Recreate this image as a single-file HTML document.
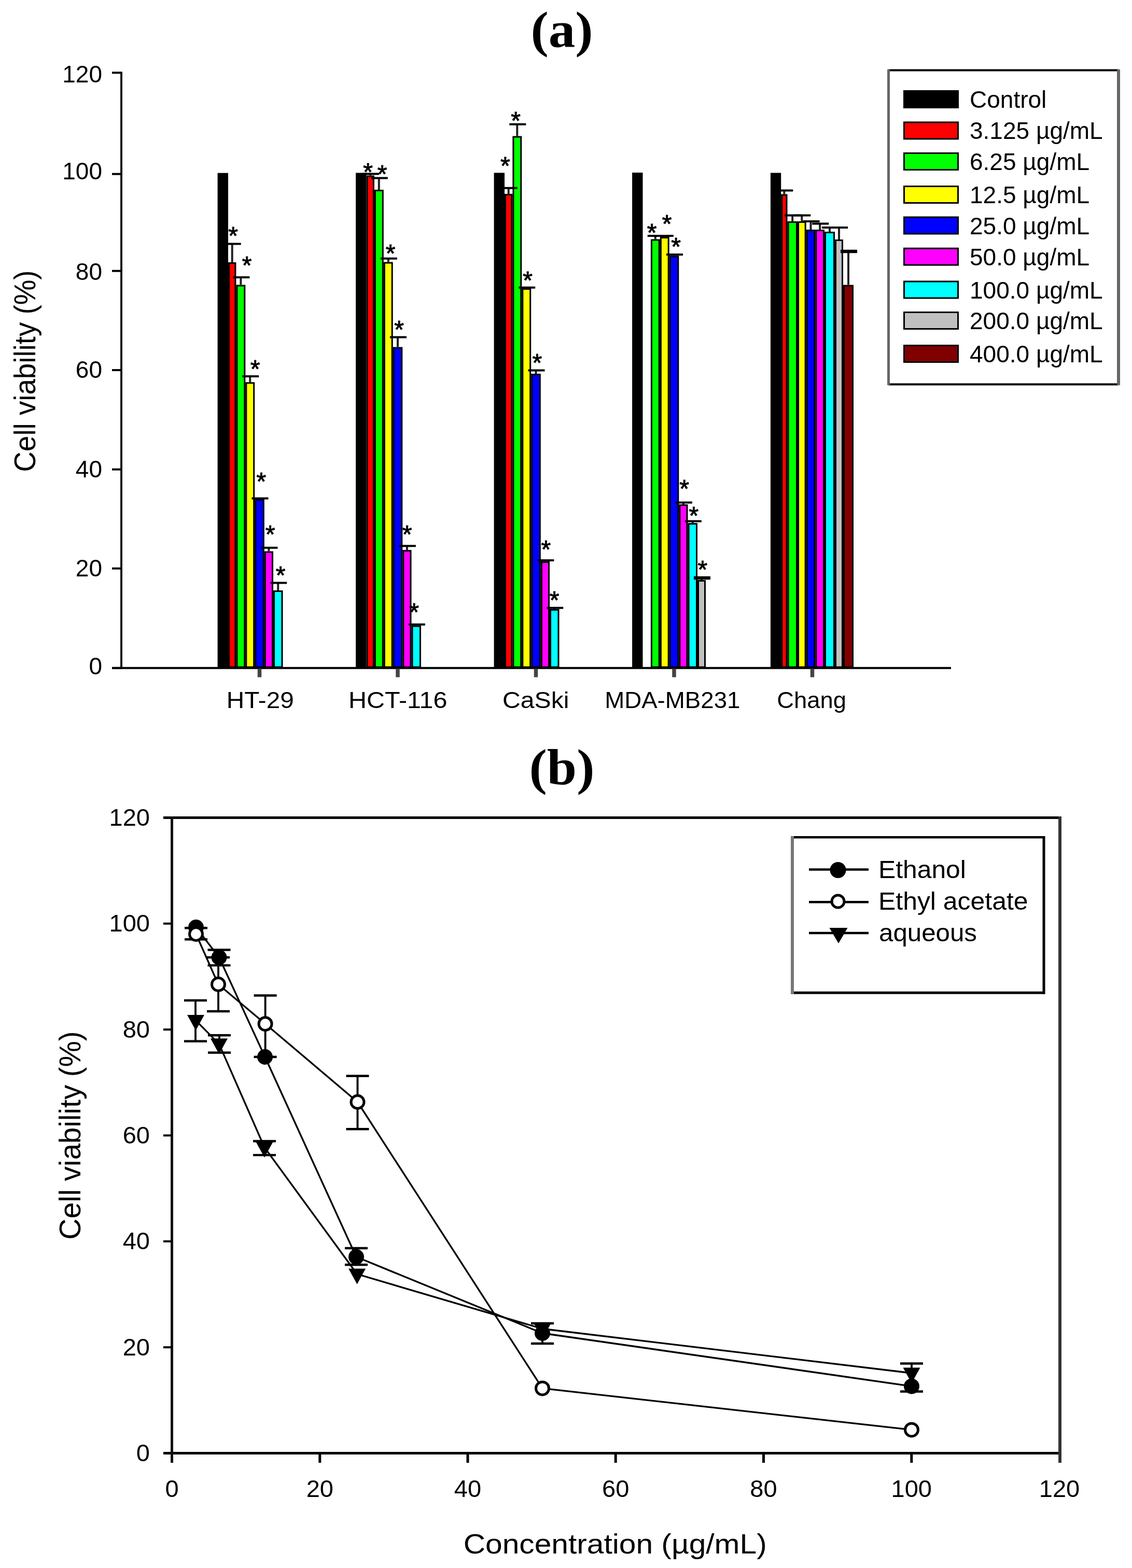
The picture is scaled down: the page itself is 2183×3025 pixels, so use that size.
<!DOCTYPE html>
<html><head><meta charset="utf-8"><title>Cell viability</title>
<style>html,body{margin:0;padding:0;background:#fff;}svg{display:block;}</style>
</head><body>
<svg width="2183" height="3025" viewBox="0 0 2183 3025">
<rect width="2183" height="3025" fill="#fff"/>
<text transform="translate(1083.5,90) scale(1,0.955)" font-family='"Liberation Serif", "Times New Roman", serif' font-weight="bold" font-size="103" text-anchor="middle">(a)</text>
<line x1="234" y1="138.5" x2="234" y2="1290.5" stroke="#111" stroke-width="4"/>
<line x1="216" y1="140.3" x2="234" y2="140.3" stroke="#000" stroke-width="4"/>
<text x="197" y="158.5" font-family='"Liberation Sans", Arial, sans-serif' font-size="46" text-anchor="end">120</text>
<line x1="216" y1="335.7" x2="234" y2="335.7" stroke="#000" stroke-width="4"/>
<text x="197" y="345.9" font-family='"Liberation Sans", Arial, sans-serif' font-size="46" text-anchor="end">100</text>
<line x1="216" y1="522.7" x2="234" y2="522.7" stroke="#000" stroke-width="4"/>
<text x="197" y="539.5" font-family='"Liberation Sans", Arial, sans-serif' font-size="46" text-anchor="end">80</text>
<line x1="216" y1="714" x2="234" y2="714" stroke="#000" stroke-width="4"/>
<text x="197" y="728.5" font-family='"Liberation Sans", Arial, sans-serif' font-size="46" text-anchor="end">60</text>
<line x1="216" y1="905.6" x2="234" y2="905.6" stroke="#000" stroke-width="4"/>
<text x="197" y="920.5" font-family='"Liberation Sans", Arial, sans-serif' font-size="46" text-anchor="end">40</text>
<line x1="216" y1="1096.7" x2="234" y2="1096.7" stroke="#000" stroke-width="4"/>
<text x="197" y="1112.3" font-family='"Liberation Sans", Arial, sans-serif' font-size="46" text-anchor="end">20</text>
<line x1="216" y1="1288.8" x2="234" y2="1288.8" stroke="#000" stroke-width="4"/>
<text x="197" y="1301.3" font-family='"Liberation Sans", Arial, sans-serif' font-size="46" text-anchor="end">0</text>
<line x1="216" y1="1288.8" x2="1834" y2="1288.8" stroke="#000" stroke-width="4"/>
<text transform="translate(68,716) rotate(-90)" font-family='"Liberation Sans", Arial, sans-serif' font-size="57" text-anchor="middle" textLength="389" lengthAdjust="spacingAndGlyphs">Cell viability (%)</text>
<rect x="421.1" y="335.2" width="17.4" height="951.8" fill="#000000" stroke="#000" stroke-width="3"/>
<rect x="441.5" y="507.5" width="12.4" height="779.5" fill="#ff0000" stroke="#000" stroke-width="3"/>
<rect x="456.9" y="551.0" width="14.9" height="736.0" fill="#00ff00" stroke="#000" stroke-width="3"/>
<rect x="474.8" y="738.8" width="14.9" height="548.2" fill="#ffff00" stroke="#000" stroke-width="3"/>
<rect x="492.7" y="964.2" width="15.6" height="322.8" fill="#0000ff" stroke="#000" stroke-width="3"/>
<rect x="511.3" y="1065.0" width="14.2" height="222.0" fill="#ff00ff" stroke="#000" stroke-width="3"/>
<rect x="528.5" y="1140.5" width="15.5" height="146.5" fill="#00ffff" stroke="#000" stroke-width="3"/>
<line x1="447.7" y1="470.6" x2="447.7" y2="506.0" stroke="#222" stroke-width="4"/>
<line x1="432.7" y1="470.6" x2="464.7" y2="470.6" stroke="#000" stroke-width="4"/>
<line x1="464.4" y1="535.0" x2="464.4" y2="549.5" stroke="#222" stroke-width="4"/>
<line x1="449.4" y1="535.0" x2="481.4" y2="535.0" stroke="#000" stroke-width="4"/>
<line x1="482.2" y1="726.0" x2="482.2" y2="737.3" stroke="#222" stroke-width="4"/>
<line x1="467.2" y1="726.0" x2="499.2" y2="726.0" stroke="#000" stroke-width="4"/>
<line x1="485.5" y1="961.5" x2="517.5" y2="961.5" stroke="#000" stroke-width="4"/>
<line x1="518.4" y1="1056.7" x2="518.4" y2="1063.5" stroke="#222" stroke-width="4"/>
<line x1="503.4" y1="1056.7" x2="535.4" y2="1056.7" stroke="#000" stroke-width="4"/>
<line x1="536.2" y1="1124.6" x2="536.2" y2="1139.0" stroke="#222" stroke-width="4"/>
<line x1="521.2" y1="1124.6" x2="553.2" y2="1124.6" stroke="#000" stroke-width="4"/>
<text x="449.6" y="470.5" font-family='"Liberation Sans", Arial, sans-serif' font-size="48" text-anchor="middle" stroke="#000" stroke-width="1.0">*</text>
<text x="476.2" y="528.3" font-family='"Liberation Sans", Arial, sans-serif' font-size="48" text-anchor="middle" stroke="#000" stroke-width="1.0">*</text>
<text x="492.0" y="727.7" font-family='"Liberation Sans", Arial, sans-serif' font-size="48" text-anchor="middle" stroke="#000" stroke-width="1.0">*</text>
<text x="503.8" y="944.8" font-family='"Liberation Sans", Arial, sans-serif' font-size="48" text-anchor="middle" stroke="#000" stroke-width="1.0">*</text>
<text x="521.0" y="1046.8" font-family='"Liberation Sans", Arial, sans-serif' font-size="48" text-anchor="middle" stroke="#000" stroke-width="1.0">*</text>
<text x="541.0" y="1126.1" font-family='"Liberation Sans", Arial, sans-serif' font-size="48" text-anchor="middle" stroke="#000" stroke-width="1.0">*</text>
<line x1="500.5" y1="1290" x2="500.5" y2="1306.5" stroke="#444" stroke-width="7.5"/>
<text x="501.8" y="1366" font-family='"Liberation Sans", Arial, sans-serif' font-size="45" text-anchor="middle" textLength="129.9" lengthAdjust="spacingAndGlyphs">HT-29</text>
<rect x="687.6" y="335.0" width="17.4" height="952.0" fill="#000000" stroke="#000" stroke-width="3"/>
<rect x="708.0" y="340.0" width="12.4" height="947.0" fill="#ff0000" stroke="#000" stroke-width="3"/>
<rect x="723.4" y="367.5" width="14.9" height="919.5" fill="#00ff00" stroke="#000" stroke-width="3"/>
<rect x="741.3" y="507.0" width="14.9" height="780.0" fill="#ffff00" stroke="#000" stroke-width="3"/>
<rect x="759.2" y="671.0" width="15.6" height="616.0" fill="#0000ff" stroke="#000" stroke-width="3"/>
<rect x="777.8" y="1062.5" width="14.2" height="224.5" fill="#ff00ff" stroke="#000" stroke-width="3"/>
<rect x="795.0" y="1208.0" width="15.5" height="79.0" fill="#00ffff" stroke="#000" stroke-width="3"/>
<line x1="714.2" y1="335.5" x2="714.2" y2="338.5" stroke="#222" stroke-width="4"/>
<line x1="699.2" y1="335.5" x2="731.2" y2="335.5" stroke="#000" stroke-width="4"/>
<line x1="730.8" y1="343.6" x2="730.8" y2="366.0" stroke="#222" stroke-width="4"/>
<line x1="715.8" y1="343.6" x2="747.8" y2="343.6" stroke="#000" stroke-width="4"/>
<line x1="748.8" y1="498.8" x2="748.8" y2="505.5" stroke="#222" stroke-width="4"/>
<line x1="733.8" y1="498.8" x2="765.8" y2="498.8" stroke="#000" stroke-width="4"/>
<line x1="767.0" y1="650.5" x2="767.0" y2="669.5" stroke="#222" stroke-width="4"/>
<line x1="752.0" y1="650.5" x2="784.0" y2="650.5" stroke="#000" stroke-width="4"/>
<line x1="784.9" y1="1053.2" x2="784.9" y2="1061.0" stroke="#222" stroke-width="4"/>
<line x1="769.9" y1="1053.2" x2="801.9" y2="1053.2" stroke="#000" stroke-width="4"/>
<line x1="787.8" y1="1204.8" x2="819.8" y2="1204.8" stroke="#000" stroke-width="4"/>
<text x="709.5" y="348.3" font-family='"Liberation Sans", Arial, sans-serif' font-size="48" text-anchor="middle" stroke="#000" stroke-width="1.0">*</text>
<text x="737.0" y="352.4" font-family='"Liberation Sans", Arial, sans-serif' font-size="48" text-anchor="middle" stroke="#000" stroke-width="1.0">*</text>
<text x="753.2" y="504.6" font-family='"Liberation Sans", Arial, sans-serif' font-size="48" text-anchor="middle" stroke="#000" stroke-width="1.0">*</text>
<text x="769.5" y="652.3" font-family='"Liberation Sans", Arial, sans-serif' font-size="48" text-anchor="middle" stroke="#000" stroke-width="1.0">*</text>
<text x="785.0" y="1046.8" font-family='"Liberation Sans", Arial, sans-serif' font-size="48" text-anchor="middle" stroke="#000" stroke-width="1.0">*</text>
<text x="798.5" y="1196.8" font-family='"Liberation Sans", Arial, sans-serif' font-size="48" text-anchor="middle" stroke="#000" stroke-width="1.0">*</text>
<line x1="767.0" y1="1290" x2="767.0" y2="1306.5" stroke="#444" stroke-width="7.5"/>
<text x="767.2" y="1366" font-family='"Liberation Sans", Arial, sans-serif' font-size="45" text-anchor="middle" textLength="190.3" lengthAdjust="spacingAndGlyphs">HCT-116</text>
<rect x="954.1" y="334.9" width="17.4" height="952.1" fill="#000000" stroke="#000" stroke-width="3"/>
<rect x="974.5" y="375.5" width="12.4" height="911.5" fill="#ff0000" stroke="#000" stroke-width="3"/>
<rect x="989.9" y="264.0" width="14.9" height="1023.0" fill="#00ff00" stroke="#000" stroke-width="3"/>
<rect x="1007.8" y="557.5" width="14.9" height="729.5" fill="#ffff00" stroke="#000" stroke-width="3"/>
<rect x="1025.7" y="722.5" width="15.6" height="564.5" fill="#0000ff" stroke="#000" stroke-width="3"/>
<rect x="1044.3" y="1084.5" width="14.2" height="202.5" fill="#ff00ff" stroke="#000" stroke-width="3"/>
<rect x="1061.5" y="1176.5" width="15.5" height="110.5" fill="#00ffff" stroke="#000" stroke-width="3"/>
<line x1="980.7" y1="362.7" x2="980.7" y2="374.0" stroke="#222" stroke-width="4"/>
<line x1="965.7" y1="362.7" x2="997.7" y2="362.7" stroke="#000" stroke-width="4"/>
<line x1="997.3" y1="239.7" x2="997.3" y2="262.5" stroke="#222" stroke-width="4"/>
<line x1="982.3" y1="239.7" x2="1014.3" y2="239.7" stroke="#000" stroke-width="4"/>
<line x1="1000.2" y1="554.8" x2="1032.2" y2="554.8" stroke="#000" stroke-width="4"/>
<line x1="1033.5" y1="714.4" x2="1033.5" y2="721.0" stroke="#222" stroke-width="4"/>
<line x1="1018.5" y1="714.4" x2="1050.5" y2="714.4" stroke="#000" stroke-width="4"/>
<line x1="1036.4" y1="1081.1" x2="1068.4" y2="1081.1" stroke="#000" stroke-width="4"/>
<line x1="1069.2" y1="1172.8" x2="1069.2" y2="1175.0" stroke="#222" stroke-width="4"/>
<line x1="1054.2" y1="1172.8" x2="1086.2" y2="1172.8" stroke="#000" stroke-width="4"/>
<text x="974.3" y="335.8" font-family='"Liberation Sans", Arial, sans-serif' font-size="48" text-anchor="middle" stroke="#000" stroke-width="1.0">*</text>
<text x="994.5" y="249.1" font-family='"Liberation Sans", Arial, sans-serif' font-size="48" text-anchor="middle" stroke="#000" stroke-width="1.0">*</text>
<text x="1017.5" y="557.1" font-family='"Liberation Sans", Arial, sans-serif' font-size="48" text-anchor="middle" stroke="#000" stroke-width="1.0">*</text>
<text x="1035.8" y="715.8" font-family='"Liberation Sans", Arial, sans-serif' font-size="48" text-anchor="middle" stroke="#000" stroke-width="1.0">*</text>
<text x="1052.8" y="1075.8" font-family='"Liberation Sans", Arial, sans-serif' font-size="48" text-anchor="middle" stroke="#000" stroke-width="1.0">*</text>
<text x="1069.0" y="1173.8" font-family='"Liberation Sans", Arial, sans-serif' font-size="48" text-anchor="middle" stroke="#000" stroke-width="1.0">*</text>
<line x1="1033.5" y1="1290" x2="1033.5" y2="1306.5" stroke="#444" stroke-width="7.5"/>
<text x="1033.3" y="1366" font-family='"Liberation Sans", Arial, sans-serif' font-size="45" text-anchor="middle" textLength="128.4" lengthAdjust="spacingAndGlyphs">CaSki</text>
<rect x="1220.6" y="334.5" width="17.4" height="952.5" fill="#000000" stroke="#000" stroke-width="3"/>
<rect x="1256.4" y="463.0" width="14.9" height="824.0" fill="#00ff00" stroke="#000" stroke-width="3"/>
<rect x="1274.3" y="458.5" width="14.9" height="828.5" fill="#ffff00" stroke="#000" stroke-width="3"/>
<rect x="1292.2" y="494.7" width="15.6" height="792.3" fill="#0000ff" stroke="#000" stroke-width="3"/>
<rect x="1310.8" y="974.5" width="14.2" height="312.5" fill="#ff00ff" stroke="#000" stroke-width="3"/>
<rect x="1328.0" y="1010.5" width="15.5" height="276.5" fill="#00ffff" stroke="#000" stroke-width="3"/>
<rect x="1346.5" y="1120.5" width="13.0" height="166.5" fill="#c0c0c0" stroke="#000" stroke-width="3"/>
<line x1="1263.8" y1="455.0" x2="1263.8" y2="461.5" stroke="#222" stroke-width="4"/>
<line x1="1248.8" y1="455.0" x2="1280.8" y2="455.0" stroke="#000" stroke-width="4"/>
<line x1="1266.8" y1="455.0" x2="1298.8" y2="455.0" stroke="#000" stroke-width="4"/>
<line x1="1300.0" y1="491.1" x2="1300.0" y2="493.2" stroke="#222" stroke-width="4"/>
<line x1="1285.0" y1="491.1" x2="1317.0" y2="491.1" stroke="#000" stroke-width="4"/>
<line x1="1317.9" y1="969.5" x2="1317.9" y2="973.0" stroke="#222" stroke-width="4"/>
<line x1="1302.9" y1="969.5" x2="1334.9" y2="969.5" stroke="#000" stroke-width="4"/>
<line x1="1335.8" y1="1005.6" x2="1335.8" y2="1009.0" stroke="#222" stroke-width="4"/>
<line x1="1320.8" y1="1005.6" x2="1352.8" y2="1005.6" stroke="#000" stroke-width="4"/>
<line x1="1353.0" y1="1115.0" x2="1353.0" y2="1119.0" stroke="#222" stroke-width="4"/>
<line x1="1338.0" y1="1115.0" x2="1370.0" y2="1115.0" stroke="#000" stroke-width="6.5"/>
<text x="1257.0" y="464.8" font-family='"Liberation Sans", Arial, sans-serif' font-size="48" text-anchor="middle" stroke="#000" stroke-width="1.0">*</text>
<text x="1286.0" y="447.7" font-family='"Liberation Sans", Arial, sans-serif' font-size="48" text-anchor="middle" stroke="#000" stroke-width="1.0">*</text>
<text x="1303.7" y="491.8" font-family='"Liberation Sans", Arial, sans-serif' font-size="48" text-anchor="middle" stroke="#000" stroke-width="1.0">*</text>
<text x="1319.5" y="959.2" font-family='"Liberation Sans", Arial, sans-serif' font-size="48" text-anchor="middle" stroke="#000" stroke-width="1.0">*</text>
<text x="1337.8" y="1011.1" font-family='"Liberation Sans", Arial, sans-serif' font-size="48" text-anchor="middle" stroke="#000" stroke-width="1.0">*</text>
<text x="1354.8" y="1114.8" font-family='"Liberation Sans", Arial, sans-serif' font-size="48" text-anchor="middle" stroke="#000" stroke-width="1.0">*</text>
<line x1="1300.0" y1="1290" x2="1300.0" y2="1306.5" stroke="#444" stroke-width="7.5"/>
<text x="1296.8" y="1366" font-family='"Liberation Sans", Arial, sans-serif' font-size="45" text-anchor="middle" textLength="261.3" lengthAdjust="spacingAndGlyphs">MDA-MB231</text>
<rect x="1487.4" y="335.0" width="17.3" height="952.0" fill="#000000" stroke="#000" stroke-width="3"/>
<rect x="1507.7" y="376.0" width="9.3" height="911.0" fill="#ff0000" stroke="#000" stroke-width="3"/>
<rect x="1520.0" y="428.5" width="16.5" height="858.5" fill="#00ff00" stroke="#000" stroke-width="3"/>
<rect x="1539.5" y="428.5" width="13.7" height="858.5" fill="#ffff00" stroke="#000" stroke-width="3"/>
<rect x="1556.2" y="444.5" width="14.6" height="842.5" fill="#0000ff" stroke="#000" stroke-width="3"/>
<rect x="1573.8" y="444.5" width="14.7" height="842.5" fill="#ff00ff" stroke="#000" stroke-width="3"/>
<rect x="1591.5" y="448.5" width="17.0" height="838.5" fill="#00ffff" stroke="#000" stroke-width="3"/>
<rect x="1611.5" y="463.5" width="13.0" height="823.5" fill="#c0c0c0" stroke="#000" stroke-width="3"/>
<rect x="1627.5" y="551.1" width="17.0" height="735.9" fill="#800000" stroke="#000" stroke-width="3"/>
<line x1="1512.3" y1="367.5" x2="1512.3" y2="374.5" stroke="#222" stroke-width="4"/>
<line x1="1497.3" y1="367.5" x2="1529.3" y2="367.5" stroke="#000" stroke-width="4"/>
<line x1="1528.2" y1="415.5" x2="1528.2" y2="427.0" stroke="#222" stroke-width="4"/>
<line x1="1513.2" y1="415.5" x2="1545.2" y2="415.5" stroke="#000" stroke-width="4"/>
<line x1="1546.3" y1="415.5" x2="1546.3" y2="427.0" stroke="#222" stroke-width="4"/>
<line x1="1531.3" y1="415.5" x2="1563.3" y2="415.5" stroke="#000" stroke-width="4"/>
<line x1="1563.5" y1="427.0" x2="1563.5" y2="443.0" stroke="#222" stroke-width="4"/>
<line x1="1548.5" y1="427.0" x2="1580.5" y2="427.0" stroke="#000" stroke-width="4"/>
<line x1="1581.2" y1="431.4" x2="1581.2" y2="443.0" stroke="#222" stroke-width="4"/>
<line x1="1566.2" y1="431.4" x2="1598.2" y2="431.4" stroke="#000" stroke-width="4"/>
<line x1="1600.0" y1="439.0" x2="1600.0" y2="447.0" stroke="#222" stroke-width="4"/>
<line x1="1585.0" y1="439.0" x2="1617.0" y2="439.0" stroke="#000" stroke-width="4"/>
<line x1="1618.0" y1="439.0" x2="1618.0" y2="462.0" stroke="#222" stroke-width="4"/>
<line x1="1603.0" y1="439.0" x2="1635.0" y2="439.0" stroke="#000" stroke-width="4"/>
<line x1="1636.0" y1="485.0" x2="1636.0" y2="549.6" stroke="#222" stroke-width="4"/>
<line x1="1621.0" y1="485.0" x2="1653.0" y2="485.0" stroke="#000" stroke-width="6.5"/>
<line x1="1566.5" y1="1290" x2="1566.5" y2="1306.5" stroke="#444" stroke-width="7.5"/>
<text x="1565.2" y="1366" font-family='"Liberation Sans", Arial, sans-serif' font-size="45" text-anchor="middle" textLength="133.8" lengthAdjust="spacingAndGlyphs">Chang</text>
<line x1="1713" y1="135.5" x2="2157" y2="135.5" stroke="#000" stroke-width="4"/>
<line x1="1713" y1="741.5" x2="2157" y2="741.5" stroke="#000" stroke-width="4"/>
<line x1="1713.5" y1="134" x2="1713.5" y2="743" stroke="#666" stroke-width="5"/>
<line x1="2157" y1="134" x2="2157" y2="743" stroke="#666" stroke-width="6"/>
<rect x="1743.5" y="175.5" width="104" height="32" fill="#000000" stroke="#000" stroke-width="3"/>
<text x="1870" y="208.0" font-family='"Liberation Sans", Arial, sans-serif' font-size="46">Control</text>
<rect x="1743.5" y="235.9" width="104" height="32" fill="#ff0000" stroke="#000" stroke-width="3"/>
<text x="1870" y="268.4" font-family='"Liberation Sans", Arial, sans-serif' font-size="46">3.125 µg/mL</text>
<rect x="1743.5" y="295.5" width="104" height="32" fill="#00ff00" stroke="#000" stroke-width="3"/>
<text x="1870" y="328.0" font-family='"Liberation Sans", Arial, sans-serif' font-size="46">6.25 µg/mL</text>
<rect x="1743.5" y="359.5" width="104" height="32" fill="#ffff00" stroke="#000" stroke-width="3"/>
<text x="1870" y="392.0" font-family='"Liberation Sans", Arial, sans-serif' font-size="46">12.5 µg/mL</text>
<rect x="1743.5" y="419.0" width="104" height="32" fill="#0000ff" stroke="#000" stroke-width="3"/>
<text x="1870" y="451.5" font-family='"Liberation Sans", Arial, sans-serif' font-size="46">25.0 µg/mL</text>
<rect x="1743.5" y="479.2" width="104" height="32" fill="#ff00ff" stroke="#000" stroke-width="3"/>
<text x="1870" y="511.7" font-family='"Liberation Sans", Arial, sans-serif' font-size="46">50.0 µg/mL</text>
<rect x="1743.5" y="543.0" width="104" height="32" fill="#00ffff" stroke="#000" stroke-width="3"/>
<text x="1870" y="575.5" font-family='"Liberation Sans", Arial, sans-serif' font-size="46">100.0 µg/mL</text>
<rect x="1743.5" y="602.5" width="104" height="32" fill="#c0c0c0" stroke="#000" stroke-width="3"/>
<text x="1870" y="635.0" font-family='"Liberation Sans", Arial, sans-serif' font-size="46">200.0 µg/mL</text>
<rect x="1743.5" y="666.5" width="104" height="32" fill="#800000" stroke="#000" stroke-width="3"/>
<text x="1870" y="699.0" font-family='"Liberation Sans", Arial, sans-serif' font-size="46">400.0 µg/mL</text>
<text transform="translate(1083.5,1513) scale(1,0.955)" font-family='"Liberation Serif", "Times New Roman", serif' font-weight="bold" font-size="103" text-anchor="middle">(b)</text>
<line x1="315" y1="1577.5" x2="2046" y2="1577.5" stroke="#000" stroke-width="5"/>
<line x1="315" y1="2803.5" x2="2046" y2="2803.5" stroke="#000" stroke-width="5"/>
<line x1="331.5" y1="1575" x2="331.5" y2="2822" stroke="#111" stroke-width="5"/>
<line x1="2044" y1="1575" x2="2044" y2="2822" stroke="#333" stroke-width="6"/>
<line x1="315" y1="1781.8" x2="331.5" y2="1781.8" stroke="#000" stroke-width="4"/>
<line x1="315" y1="1986.2" x2="331.5" y2="1986.2" stroke="#000" stroke-width="4"/>
<line x1="315" y1="2190.5" x2="331.5" y2="2190.5" stroke="#000" stroke-width="4"/>
<line x1="315" y1="2394.8" x2="331.5" y2="2394.8" stroke="#000" stroke-width="4"/>
<line x1="315" y1="2599.2" x2="331.5" y2="2599.2" stroke="#000" stroke-width="4"/>
<text x="289" y="2819.0" font-family='"Liberation Sans", Arial, sans-serif' font-size="47" text-anchor="end">0</text>
<text x="289" y="2614.7" font-family='"Liberation Sans", Arial, sans-serif' font-size="47" text-anchor="end">20</text>
<text x="289" y="2410.3" font-family='"Liberation Sans", Arial, sans-serif' font-size="47" text-anchor="end">40</text>
<text x="289" y="2206.0" font-family='"Liberation Sans", Arial, sans-serif' font-size="47" text-anchor="end">60</text>
<text x="289" y="2001.7" font-family='"Liberation Sans", Arial, sans-serif' font-size="47" text-anchor="end">80</text>
<text x="289" y="1797.3" font-family='"Liberation Sans", Arial, sans-serif' font-size="47" text-anchor="end">100</text>
<text x="289" y="1593.0" font-family='"Liberation Sans", Arial, sans-serif' font-size="47" text-anchor="end">120</text>
<line x1="616.8" y1="2805" x2="616.8" y2="2822" stroke="#000" stroke-width="5"/>
<line x1="902.0" y1="2805" x2="902.0" y2="2822" stroke="#000" stroke-width="5"/>
<line x1="1187.2" y1="2805" x2="1187.2" y2="2822" stroke="#000" stroke-width="5"/>
<line x1="1472.5" y1="2805" x2="1472.5" y2="2822" stroke="#000" stroke-width="5"/>
<line x1="1757.8" y1="2805" x2="1757.8" y2="2822" stroke="#000" stroke-width="5"/>
<text x="331.5" y="2887.5" font-family='"Liberation Sans", Arial, sans-serif' font-size="47" text-anchor="middle">0</text>
<text x="616.8" y="2887.5" font-family='"Liberation Sans", Arial, sans-serif' font-size="47" text-anchor="middle">20</text>
<text x="902.0" y="2887.5" font-family='"Liberation Sans", Arial, sans-serif' font-size="47" text-anchor="middle">40</text>
<text x="1187.2" y="2887.5" font-family='"Liberation Sans", Arial, sans-serif' font-size="47" text-anchor="middle">60</text>
<text x="1472.5" y="2887.5" font-family='"Liberation Sans", Arial, sans-serif' font-size="47" text-anchor="middle">80</text>
<text x="1757.8" y="2887.5" font-family='"Liberation Sans", Arial, sans-serif' font-size="47" text-anchor="middle">100</text>
<text x="2043.0" y="2887.5" font-family='"Liberation Sans", Arial, sans-serif' font-size="47" text-anchor="middle">120</text>
<text x="1186.2" y="2997.3" font-family='"Liberation Sans", Arial, sans-serif' font-size="54" text-anchor="middle" textLength="585" lengthAdjust="spacingAndGlyphs">Concentration (µg/mL)</text>
<text transform="translate(155,2190.5) rotate(-90)" font-family='"Liberation Sans", Arial, sans-serif' font-size="57" text-anchor="middle" textLength="402" lengthAdjust="spacingAndGlyphs">Cell viability (%)</text>
<line x1="378" y1="1790.3" x2="378" y2="1812.3" stroke="#111" stroke-width="4"/>
<line x1="356" y1="1790.3" x2="400" y2="1790.3" stroke="#000" stroke-width="4.4"/>
<line x1="356" y1="1812.3" x2="400" y2="1812.3" stroke="#000" stroke-width="4.4"/>
<line x1="422.5" y1="1832.5" x2="422.5" y2="1862.4" stroke="#111" stroke-width="4"/>
<line x1="400.5" y1="1832.5" x2="444.5" y2="1832.5" stroke="#000" stroke-width="4.4"/>
<line x1="400.5" y1="1862.4" x2="444.5" y2="1862.4" stroke="#000" stroke-width="4.4"/>
<line x1="421" y1="1847" x2="421" y2="1951" stroke="#111" stroke-width="4"/>
<line x1="399" y1="1847" x2="443" y2="1847" stroke="#000" stroke-width="4.4"/>
<line x1="399" y1="1951" x2="443" y2="1951" stroke="#000" stroke-width="4.4"/>
<line x1="377" y1="1930" x2="377" y2="2008.8" stroke="#111" stroke-width="4"/>
<line x1="355" y1="1930" x2="399" y2="1930" stroke="#000" stroke-width="4.4"/>
<line x1="355" y1="2008.8" x2="399" y2="2008.8" stroke="#000" stroke-width="4.4"/>
<line x1="423" y1="1997.3" x2="423" y2="2030.8" stroke="#111" stroke-width="4"/>
<line x1="401" y1="1997.3" x2="445" y2="1997.3" stroke="#000" stroke-width="4.4"/>
<line x1="401" y1="2030.8" x2="445" y2="2030.8" stroke="#000" stroke-width="4.4"/>
<line x1="511.6" y1="1920.5" x2="511.6" y2="2039" stroke="#111" stroke-width="4"/>
<line x1="489.6" y1="1920.5" x2="533.6" y2="1920.5" stroke="#000" stroke-width="4.4"/>
<line x1="489.6" y1="2039" x2="533.6" y2="2039" stroke="#000" stroke-width="4.4"/>
<line x1="510" y1="2201.5" x2="510" y2="2228.4" stroke="#111" stroke-width="4"/>
<line x1="488" y1="2201.5" x2="532" y2="2201.5" stroke="#000" stroke-width="4.4"/>
<line x1="488" y1="2228.4" x2="532" y2="2228.4" stroke="#000" stroke-width="4.4"/>
<line x1="689.5" y1="2075.7" x2="689.5" y2="2178.3" stroke="#111" stroke-width="4"/>
<line x1="667.5" y1="2075.7" x2="711.5" y2="2075.7" stroke="#000" stroke-width="4.4"/>
<line x1="667.5" y1="2178.3" x2="711.5" y2="2178.3" stroke="#000" stroke-width="4.4"/>
<line x1="687" y1="2408" x2="687" y2="2440" stroke="#111" stroke-width="4"/>
<line x1="665" y1="2408" x2="709" y2="2408" stroke="#000" stroke-width="4.4"/>
<line x1="665" y1="2440" x2="709" y2="2440" stroke="#000" stroke-width="4.4"/>
<line x1="1046" y1="2553" x2="1046" y2="2592" stroke="#111" stroke-width="4"/>
<line x1="1024" y1="2553" x2="1068" y2="2553" stroke="#000" stroke-width="4.4"/>
<line x1="1024" y1="2592" x2="1068" y2="2592" stroke="#000" stroke-width="4.4"/>
<line x1="1758" y1="2630.5" x2="1758" y2="2684.5" stroke="#111" stroke-width="4"/>
<line x1="1736" y1="2630.5" x2="1780" y2="2630.5" stroke="#000" stroke-width="4.4"/>
<line x1="1736" y1="2684.5" x2="1780" y2="2684.5" stroke="#000" stroke-width="4.4"/>
<polyline points="378.0,1789.0 422.5,1847.0 511.0,2039.0 687.0,2424.8 1046.0,2572.0 1758.0,2674.4" fill="none" stroke="#000" stroke-width="3.3" stroke-linejoin="round"/>
<polyline points="378.0,1802.0 421.0,1899.0 511.6,1975.2 689.5,2126.0 1046.0,2678.4 1758.0,2758.4" fill="none" stroke="#000" stroke-width="3.3" stroke-linejoin="round"/>
<polyline points="377.5,1968.6 422.5,2014.1 510.0,2213.5 688.6,2458.0 1046.0,2563.5 1758.0,2649.0" fill="none" stroke="#000" stroke-width="3.3" stroke-linejoin="round"/>
<circle cx="378" cy="1789" r="15" fill="#000"/>
<circle cx="422.5" cy="1847" r="15" fill="#000"/>
<circle cx="511" cy="2039" r="15" fill="#000"/>
<circle cx="687" cy="2424.8" r="15" fill="#000"/>
<circle cx="1046" cy="2572" r="15" fill="#000"/>
<circle cx="1758" cy="2674.4" r="15" fill="#000"/>
<polygon points="361.0,1958.1 394.0,1958.1 377.5,1988.1" fill="#000"/>
<polygon points="406.0,2003.6 439.0,2003.6 422.5,2033.6" fill="#000"/>
<polygon points="493.5,2203.0 526.5,2203.0 510.0,2233.0" fill="#000"/>
<polygon points="672.1,2447.5 705.1,2447.5 688.6,2477.5" fill="#000"/>
<polygon points="1029.5,2553.0 1062.5,2553.0 1046.0,2583.0" fill="#000"/>
<polygon points="1741.5,2638.5 1774.5,2638.5 1758.0,2668.5" fill="#000"/>
<circle cx="378" cy="1802" r="12.5" fill="#fff" stroke="#000" stroke-width="5"/>
<circle cx="421" cy="1899" r="12.5" fill="#fff" stroke="#000" stroke-width="5"/>
<circle cx="511.6" cy="1975.2" r="12.5" fill="#fff" stroke="#000" stroke-width="5"/>
<circle cx="689.5" cy="2126" r="12.5" fill="#fff" stroke="#000" stroke-width="5"/>
<circle cx="1046" cy="2678.4" r="12.5" fill="#fff" stroke="#000" stroke-width="5"/>
<circle cx="1758" cy="2758.4" r="12.5" fill="#fff" stroke="#000" stroke-width="5"/>
<line x1="1528" y1="1615.3" x2="2014" y2="1615.3" stroke="#000" stroke-width="4.5"/>
<line x1="1528" y1="1915.2" x2="2014" y2="1915.2" stroke="#000" stroke-width="5"/>
<line x1="1528" y1="1613" x2="1528" y2="1918" stroke="#777" stroke-width="6"/>
<line x1="2013" y1="1613" x2="2013" y2="1918" stroke="#000" stroke-width="5"/>
<line x1="1560" y1="1677.4" x2="1675" y2="1677.4" stroke="#000" stroke-width="4.5"/>
<circle cx="1616" cy="1678.5" r="15.5" fill="#000"/>
<line x1="1560" y1="1740.3" x2="1675" y2="1740.3" stroke="#000" stroke-width="4.5"/>
<circle cx="1616" cy="1739" r="12" fill="#fff" stroke="#000" stroke-width="5"/>
<line x1="1560" y1="1800" x2="1675" y2="1800" stroke="#000" stroke-width="4.5"/>
<polygon points="1599.5,1790.0 1634.5,1790.0 1617.0,1820.0" fill="#000"/>
<text x="1694" y="1694" font-family='"Liberation Sans", Arial, sans-serif' font-size="48" textLength="168.8" lengthAdjust="spacingAndGlyphs">Ethanol</text>
<text x="1694" y="1754.5" font-family='"Liberation Sans", Arial, sans-serif' font-size="48" textLength="288.5" lengthAdjust="spacingAndGlyphs">Ethyl acetate</text>
<text x="1695" y="1816" font-family='"Liberation Sans", Arial, sans-serif' font-size="48" textLength="189" lengthAdjust="spacingAndGlyphs">aqueous</text>
</svg>
</body></html>
